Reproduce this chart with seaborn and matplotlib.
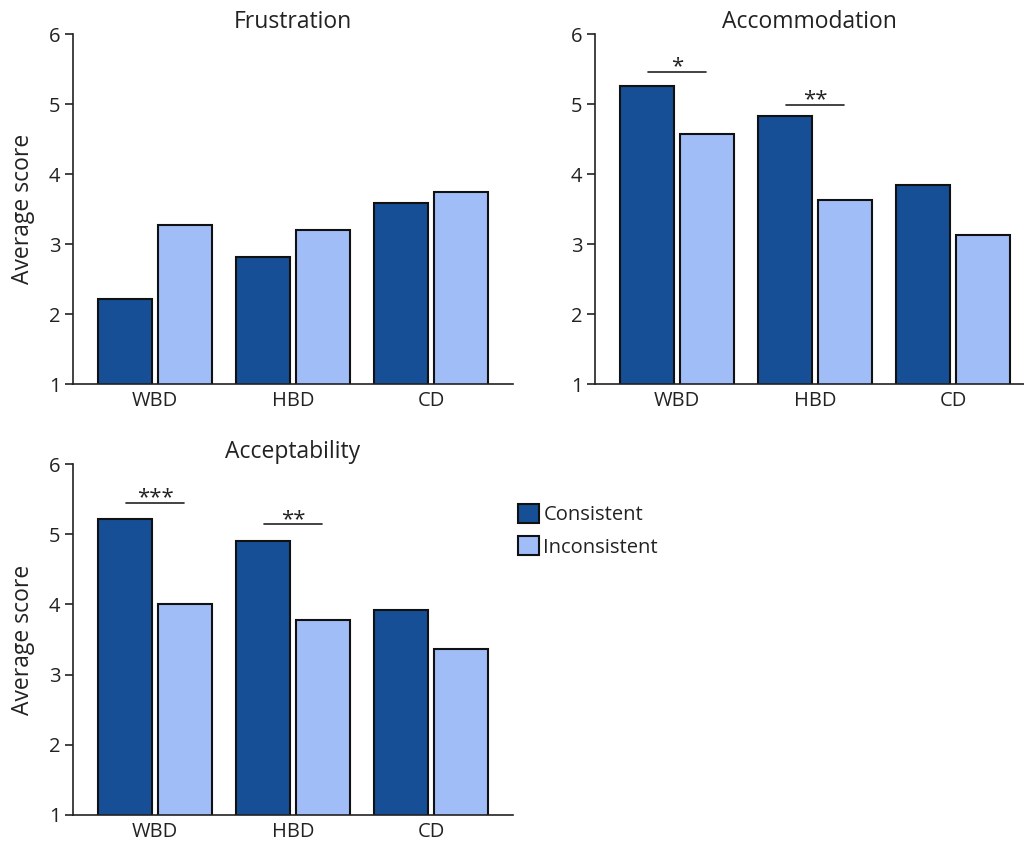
import pandas as pd
import seaborn as sns
import matplotlib.pyplot as plt
from matplotlib.patches import Patch

# data
groups = ['WBD', 'HBD', 'CD']
conditions = ['Consistent', 'Inconsistent']
panels = ['Frustration', 'Accommodation', 'Acceptability']

frustration_consistent = [2.21, 2.82, 3.58]
frustration_inconsistent = [3.27, 3.20, 3.74]
accommodation_consistent = [5.26, 4.83, 3.85]
accommodation_inconsistent = [4.57, 3.63, 3.13]
acceptability_consistent = [5.21, 4.90, 3.92]
acceptability_inconsistent = [4.00, 3.78, 3.37]

# significance brackets
sig_panel = ['Accommodation', 'Accommodation', 'Acceptability', 'Acceptability']
sig_group = ['WBD', 'HBD', 'WBD', 'HBD']
sig_height = [5.46, 4.99, 5.45, 5.14]
sig_label = ['*', '**', '***', '**']

values = {
    'Frustration': (frustration_consistent, frustration_inconsistent),
    'Accommodation': (accommodation_consistent, accommodation_inconsistent),
    'Acceptability': (acceptability_consistent, acceptability_inconsistent),
}
rows = []
for p in panels:
    for cond, vals in zip(conditions, values[p]):
        for g, v in zip(groups, vals):
            rows.append({'panel': p, 'group': g, 'condition': cond, 'score': v})
df = pd.DataFrame(rows)

dark = '#164f95'
light = '#a1bdf7'
text_col = '#222222'

sns.set_theme(style='ticks')
plt.rcParams['font.family'] = ['Open Sans', 'DejaVu Sans']
plt.rcParams['text.color'] = text_col
plt.rcParams['axes.labelcolor'] = text_col
plt.rcParams['xtick.color'] = text_col
plt.rcParams['ytick.color'] = text_col

W, H = 1024, 841
fig = plt.figure(figsize=(W / 100, H / 100), dpi=100)

# axes boxes in pixels: left, top(y=6), right, bottom(y=1)
boxes = {
    'Frustration': (73, 34, 513, 384),
    'Accommodation': (595, 34, 1024, 384),
    'Acceptability': (73, 464, 513, 815),
}

for p in panels:
    l, t, r, b = boxes[p]
    ax = fig.add_axes([l / W, 1 - b / H, (r - l) / W, (b - t) / H])
    sub = df[df['panel'] == p]
    sns.barplot(data=sub, x='group', y='score', hue='condition',
                order=groups, hue_order=conditions, palette=[dark, light],
                saturation=1, edgecolor='#111111', linewidth=1.5,
                width=0.87, gap=0.1, errorbar=None, legend=False, ax=ax)
    ax.set_ylim(1, 6)
    ax.set_yticks(range(1, 7))
    ax.set_xlim(-0.594, -0.594 + (r - l) / 138)
    sns.despine(ax=ax)
    for s in ['left', 'bottom']:
        ax.spines[s].set_linewidth(1.2)
        ax.spines[s].set_color(text_col)
    ax.tick_params(axis='x', length=0, labelsize=14.5, pad=5)
    ax.tick_params(axis='y', length=6, width=1.2, labelsize=14.5, pad=3)
    ax.set_xlabel('')
    if p == 'Accommodation':
        ax.set_ylabel('')
    else:
        ax.set_ylabel('Average score', fontsize=16.5, labelpad=10)
    ax.set_title(p, fontsize=16.5, pad=3)

    for sp, sg, sh, sl in zip(sig_panel, sig_group, sig_height, sig_label):
        if sp != p:
            continue
        xc = groups.index(sg)
        ax.plot([xc - 0.21, xc + 0.21], [sh, sh], color=text_col, lw=1.2)
        ax.text(xc, sh - 0.08, sl, ha='center', va='bottom', fontsize=16)

handles = [Patch(facecolor=dark, edgecolor='#111111', linewidth=1.5),
           Patch(facecolor=light, edgecolor='#111111', linewidth=1.5)]
fig.legend(handles, conditions, loc='upper left',
           bbox_to_anchor=(500 / W, 1 - 486 / H), frameon=False,
           fontsize=14.5, handlelength=1.05, handleheight=1.05,
           handletextpad=0.2, labelspacing=0.55)

fig.savefig('out.png', dpi=100)
